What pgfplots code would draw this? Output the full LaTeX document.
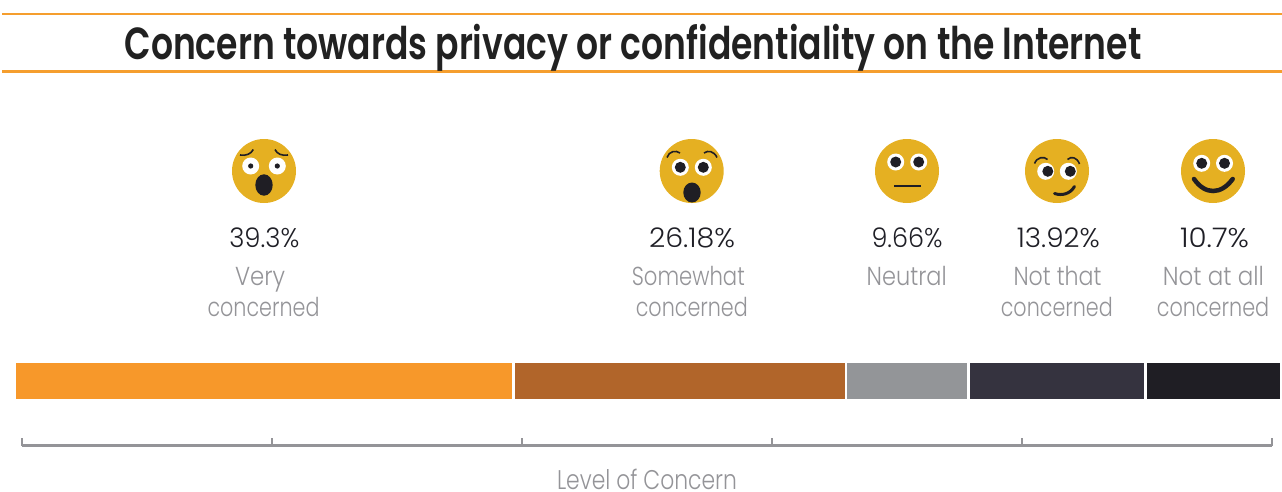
\documentclass[border=0pt]{standalone}
\usepackage{pgfplots}
\pgfplotsset{compat=1.18}
\usepackage{graphicx}
\usepackage{fontspec}
\setmainfont{Poppins Light}
\newfontfamily\titlef{Poppins SemiBold}
\definecolor{cA}{HTML}{F7982A}
\definecolor{cB}{HTML}{B1652A}
\definecolor{cC}{HTML}{939598}
\definecolor{cD}{HTML}{35333F}
\definecolor{cE}{HTML}{1F1E24}
\definecolor{face}{HTML}{E5B022}
\definecolor{rulec}{HTML}{F59E2E}
\definecolor{labc}{HTML}{949498}
\definecolor{ink}{HTML}{1F1F26}
% text fitted to a width, keeping the natural height
\newcommand{\fit}[2]{\resizebox{#1pt}{\height}{#2}}
\newcommand{\val}[3]{\node[anchor=base,inner sep=0pt,text=ink,font=\fontsize{27}{27}\selectfont] at (#1,247) {\fit{#2}{#3}};}
\newcommand{\lab}[4]{\node[anchor=base,inner sep=0pt,text=labc,font=\fontsize{26}{26}\selectfont] at (#1,#2) {\fit{#3}{#4}};}
\begin{document}
\begin{tikzpicture}[x=1pt,y=-1pt]
\path[use as bounding box] (0,0) rectangle (1282,491);
% title band
\draw[rulec,line width=2.4pt] (2,14) -- (1282,14);
\draw[rulec,line width=2.4pt] (2,71.5) -- (1282,71.5);
\node[anchor=base,inner sep=0pt,text=black!87,font=\fontsize{45}{45}\titlef] at (633,59) {\fit{1017}{Concern towards privacy or confidentiality on the Internet}};
% bars
\begin{axis}[at={(14.75pt,-400.25pt)},anchor=south west,width=1266.5pt,height=38.5pt,scale only axis,
  hide axis,xmin=0,xmax=99.76,ymin=-1,ymax=1,xbar stacked,bar width=38.5pt,clip=false]
\addplot[fill=cA,draw=white,line width=2.5pt] coordinates {(39.3,0)};
\addplot[fill=cB,draw=white,line width=2.5pt] coordinates {(26.18,0)};
\addplot[fill=cC,draw=white,line width=2.5pt] coordinates {(9.66,0)};
\addplot[fill=cD,draw=white,line width=2.5pt] coordinates {(13.92,0)};
\addplot[fill=cE,draw=white,line width=2.5pt] coordinates {(10.7,0)};
\end{axis}
% scale
\begin{axis}[at={(22pt,-445.5pt)},anchor=south west,width=1250pt,height=10pt,scale only axis,
  xmin=0,xmax=100,ymin=0,ymax=1,axis x line*=bottom,axis y line=none,
  xtick={0,20,40,60,80,100},xticklabels={},tick align=inside,major tick length=7.5pt,
  every tick/.style={draw=labc,line width=2.3pt},
  x axis line style={draw=labc,line width=2.4pt,-},
  xlabel={\fit{180}{Level of Concern}},
  xlabel style={at={(axis description cs:0.5,0)},anchor=base,yshift=-43.5pt,inner sep=0pt,text=labc,font=\fontsize{27}{27}\selectfont}]
\end{axis}
% labels
\val{264.3}{70}{39.3\%}
\val{692}{86}{26.18\%}
\val{907}{71}{9.66\%}
\val{1058.3}{83}{13.92\%}
\val{1214.5}{69}{10.7\%}
\lab{260}{285}{50}{Very}
\lab{263.5}{316}{112}{concerned}
\lab{688.3}{285}{113}{Somewhat}
\lab{691.8}{316}{112}{concerned}
\lab{906.7}{285}{80}{Neutral}
\lab{1057.5}{285}{88}{Not that}
\lab{1056.8}{316}{112}{concerned}
\lab{1213.3}{285}{101}{Not at all}
\lab{1213}{316}{112.5}{concerned}
% faces
\fill[face] (264,171) circle (32);
\fill[white] (250.7,166) circle (8.5) (277.3,166) circle (8.5);
\fill[cE] (250.7,166) circle (2.6) (277.3,166) circle (2.6);
\fill[cE] (264,185) ellipse (8.7 and 10.7);
\draw[cE,line width=1.6pt] (240,155) .. controls (246,156) and (251,154) .. (253.3,149.5);
\draw[cE,line width=1.6pt] (288,155) .. controls (282,156) and (277,154) .. (275,149.5);
\fill[face] (691.7,171) circle (32);
\fill[white] (680.3,167.3) circle (8.5) (703.3,167.3) circle (8.5);
\fill[cE] (680.3,167.3) circle (5.5) (703.3,167.3) circle (5.5);
\fill[cE] (692,192.5) ellipse (8.7 and 10);
\draw[cE,line width=1.6pt] (667,157.5) .. controls (669,151) and (676,150) .. (680,153);
\draw[cE,line width=1.6pt] (704,153) .. controls (708,150) and (714,151) .. (717,157.5);
\fill[face] (907,171) circle (32);
\fill[white] (895.7,162) circle (8.5) (918.7,162) circle (8.5);
\fill[cE] (895.7,162) circle (5.5) (918.7,162) circle (5.5);
\draw[cE,line width=2.4pt] (894.3,185.7) -- (920.7,185.7);
\fill[face] (1057,171) circle (32);
\fill[white] (1045.7,171.3) circle (8.5) (1068.3,171.3) circle (8.5);
\fill[cE] (1047.8,171.3) circle (5.5) (1070.3,171.3) circle (5.5);
\draw[cE,line width=1.6pt] (1034.5,163.5) .. controls (1037,157) and (1044,156) .. (1047.5,159.5);
\draw[cE,line width=1.6pt] (1067.5,159.5) .. controls (1071,156) and (1077,157) .. (1079.5,164);
\draw[cE,line width=3pt,line cap=round] (1054.5,193.5) .. controls (1062,196) and (1070,194) .. (1074.5,186.5);
\fill[face] (1213,171) circle (32);
\fill[white] (1201.7,163.3) circle (8.5) (1224.5,163.3) circle (8.5);
\fill[cE] (1201.7,163.3) circle (5.5) (1224.5,163.3) circle (5.5);
\draw[cE,line width=4.5pt,line cap=round] (1194,179) .. controls (1205,195) and (1221,195) .. (1232.7,179);
\end{tikzpicture}
\end{document}
